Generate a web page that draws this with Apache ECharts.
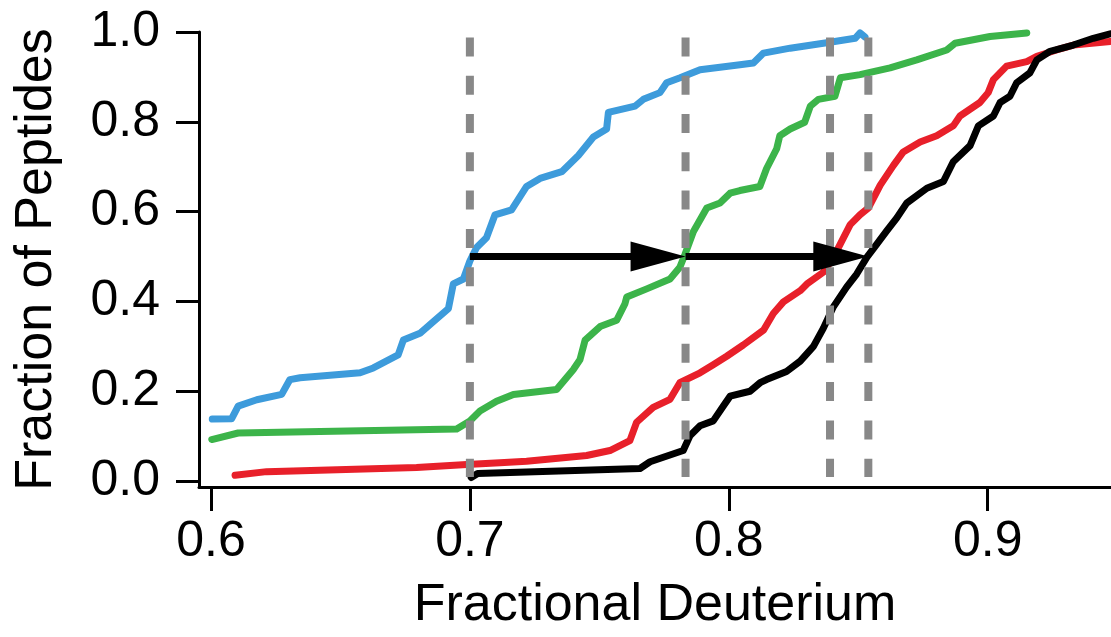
<!DOCTYPE html>
<html>
<head>
<meta charset="utf-8">
<script src="https://cdn.jsdelivr.net/npm/echarts@6/dist/echarts.min.js"></script>
<style>
html,body{margin:0;padding:0;background:#fff;}
#chart{width:1111px;height:637px;}
</style>
</head>
<body>
<div id="chart"></div>
<script>
// ---- data ----
const xTicks = [0.6, 0.7, 0.8, 0.9];
const yTicks = [0.0, 0.2, 0.4, 0.6, 0.8, 1.0];

const blueData = [[0.6005,0.138],[0.608,0.139],[0.6105,0.167],[0.6177,0.181],[0.6273,0.193],[0.6305,0.226],[0.6344,0.230],[0.6576,0.241],[0.6627,0.252],[0.6723,0.281],[0.6743,0.314],[0.6807,0.329],[0.6859,0.355],[0.6917,0.384],[0.6936,0.439],[0.6975,0.450],[0.7,0.490],[0.7026,0.520],[0.7064,0.542],[0.7097,0.593],[0.7161,0.604],[0.7219,0.656],[0.7271,0.674],[0.7355,0.689],[0.7419,0.725],[0.7477,0.766],[0.7528,0.784],[0.7535,0.821],[0.7638,0.835],[0.7670,0.850],[0.7734,0.865],[0.776,0.887],[0.7812,0.898],[0.7889,0.916],[0.8043,0.927],[0.8095,0.931],[0.8134,0.953],[0.8237,0.964],[0.8378,0.976],[0.8488,0.986],[0.8507,0.998],[0.8526,0.989]];

const greenData = [[0.6003,0.0925],[0.6105,0.107],[0.6949,0.116],[0.7,0.134],[0.7039,0.156],[0.7103,0.178],[0.7168,0.193],[0.7335,0.204],[0.7399,0.248],[0.7425,0.270],[0.7445,0.314],[0.7503,0.344],[0.7567,0.358],[0.7599,0.395],[0.7606,0.410],[0.7683,0.428],[0.7773,0.450],[0.7811,0.476],[0.7831,0.505],[0.7863,0.555],[0.7915,0.608],[0.7966,0.619],[0.8005,0.641],[0.8043,0.647],[0.812,0.656],[0.8146,0.696],[0.8185,0.740],[0.8197,0.769],[0.8237,0.784],[0.8293,0.799],[0.8315,0.835],[0.8346,0.850],[0.8410,0.857],[0.8431,0.898],[0.8507,0.905],[0.8623,0.920],[0.8726,0.938],[0.8842,0.960],[0.8874,0.975],[0.9009,0.990],[0.9151,0.998]];

const redData = [[0.6093,0.013],[0.6215,0.021],[0.6794,0.030],[0.6988,0.037],[0.7116,0.041],[0.7219,0.044],[0.7451,0.057],[0.7541,0.068],[0.7618,0.090],[0.7644,0.131],[0.7708,0.164],[0.7773,0.182],[0.7811,0.219],[0.7889,0.241],[0.794,0.259],[0.7992,0.278],[0.8056,0.303],[0.8134,0.336],[0.8172,0.373],[0.8211,0.399],[0.8276,0.424],[0.8302,0.439],[0.8365,0.465],[0.8404,0.498],[0.8430,0.527],[0.8469,0.571],[0.8507,0.593],[0.8539,0.608],[0.8585,0.659],[0.8636,0.703],[0.8674,0.733],[0.8739,0.755],[0.8803,0.769],[0.8867,0.791],[0.8893,0.813],[0.8970,0.843],[0.9002,0.865],[0.9022,0.894],[0.9073,0.924],[0.9151,0.934],[0.919,0.946],[0.9266,0.960],[0.9331,0.971],[0.9473,0.979]];

const blackData = [[0.7005,0.008],[0.703,0.017],[0.7657,0.028],[0.7696,0.043],[0.7824,0.068],[0.785,0.101],[0.7889,0.123],[0.794,0.134],[0.7979,0.167],[0.8005,0.189],[0.8082,0.200],[0.8121,0.219],[0.8146,0.226],[0.8223,0.244],[0.8276,0.267],[0.8327,0.300],[0.8365,0.340],[0.8404,0.388],[0.8455,0.432],[0.8494,0.461],[0.8533,0.498],[0.8571,0.527],[0.861,0.557],[0.8649,0.586],[0.8687,0.619],[0.8765,0.652],[0.8829,0.667],[0.8867,0.711],[0.8932,0.747],[0.8964,0.791],[0.9022,0.813],[0.9048,0.843],[0.9086,0.857],[0.9112,0.887],[0.9163,0.909],[0.919,0.938],[0.9241,0.957],[0.9331,0.971],[0.9408,0.986],[0.9473,0.996]];

const dashX = [0.7, 0.7833, 0.8391, 0.8539];
const dashSpan = [0.988, 0.009];
const arrowY = 0.5;
const arrowSegments = [[0.7, 0.7833], [0.7833, 0.8539]];

// ---- chart ----
const FONT = "'Liberation Sans', Arial, Helvetica, sans-serif";
const chart = echarts.init(document.getElementById('chart'), null, {renderer: 'canvas'});

const curve = (data, color) => ({
  type: 'line', data: data, showSymbol: false, symbol: 'none',
  lineStyle: {color: color, width: 7, cap: 'round', join: 'round'},
  z: 2, silent: true, animation: false
});

const dashSeries = dashX.map(x => ({
  type: 'line', data: [[x, dashSpan[0]], [x, dashSpan[1]]],
  showSymbol: false, symbol: 'none',
  lineStyle: {color: '#888888', width: 8, type: [19, 19.3], cap: 'butt'},
  z: 3, silent: true, animation: false
}));

const arrowSeries = {
  type: 'custom', z: 4, silent: true, animation: false,
  encode: {x: [0, 1], y: 2},
  data: arrowSegments.map(s => [s[0], s[1], arrowY]),
  renderItem: function (params, api) {
    const p0 = api.coord([api.value(0), api.value(2)]);
    const p1 = api.coord([api.value(1), api.value(2)]);
    const L = 55, H = 15;
    return {
      type: 'group',
      children: [
        {type: 'line', shape: {x1: p0[0], y1: p0[1], x2: p1[0] - L + 4, y2: p1[1]},
         style: {stroke: '#000', lineWidth: 7}},
        {type: 'polygon', shape: {points: [[p1[0], p1[1]], [p1[0] - L, p1[1] - H], [p1[0] - L, p1[1] + H]]},
         style: {fill: '#000'}}
      ]
    };
  }
};

chart.setOption({
  backgroundColor: '#ffffff',
  animation: false,
  grid: {left: 199, right: 0, top: 32, bottom: 145, containLabel: false},
  xAxis: {
    type: 'value', min: 0.59537, max: 0.94763,
    name: 'Fractional Deuterium', nameLocation: 'middle', nameGap: 93,
    nameTextStyle: {fontSize: 52, fontFamily: FONT, color: '#000'},
    axisLine: {show: true, onZero: false, lineStyle: {color: '#000', width: 3}},
    axisTick: {show: true, customValues: xTicks, length: 24, lineStyle: {color: '#000', width: 3}},
    axisLabel: {show: true, customValues: xTicks, fontSize: 50, fontFamily: FONT, color: '#000', margin: 30,
      formatter: v => v.toFixed(1)},
    splitLine: {show: false}
  },
  yAxis: {
    type: 'value', min: -0.0132, max: 1.0,
    name: 'Fraction of Peptides', nameLocation: 'middle', nameGap: 136, nameRotate: 90,
    nameTextStyle: {fontSize: 52, fontFamily: FONT, color: '#000'},
    axisLine: {show: true, onZero: false, lineStyle: {color: '#000', width: 3}},
    axisTick: {show: true, customValues: yTicks, length: 23, lineStyle: {color: '#000', width: 3}},
    axisLabel: {show: true, customValues: yTicks, fontSize: 50, fontFamily: FONT, color: '#000', margin: 39,
      formatter: v => v.toFixed(1)},
    splitLine: {show: false}
  },
  series: [
    curve(blueData, '#3d9bdb'),
    curve(greenData, '#3cb44a'),
    curve(redData, '#e8202a'),
    curve(blackData, '#000000'),
    ...dashSeries,
    arrowSeries
  ]
});
</script>
</body>
</html>
